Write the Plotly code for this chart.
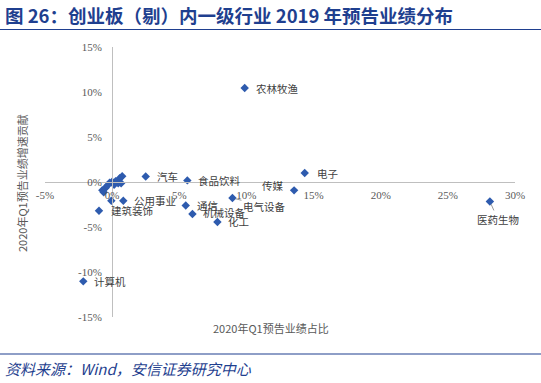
import plotly.graph_objects as go

# ---- data (percent) ----
industries = ["农林牧渔", "电子", "传媒", "医药生物", "计算机", "汽车", "食品饮料",
              "通信", "机械设备", "化工", "电气设备", "公用事业", "建筑装饰",
              "", "", "", "", "", "", "", "", "", "", "", "", ""]
share = [9.87, 14.34, 13.55, 28.13, -2.15, 2.50, 5.60,
         5.48, 5.98, 7.84, 8.96, 0.83, -0.98,
         -0.06, 0.75, 0.56, 0.26, 0.00, 0.15, 0.45, 0.67, -0.48, -0.73, -0.63, -0.19, -0.35]
contrib = [10.44, 1.00, -0.93, -2.16, -11.04, 0.62, 0.18,
           -2.60, -3.56, -4.44, -1.78, -2.08, -3.20,
           -2.08, 0.64, 0.42, 0.09, 0.03, -0.30, -0.13, -0.13, -0.63, -0.91, -1.13, -0.08, -0.40]
x_ticks = [-5, 0, 5, 10, 15, 20, 25, 30]
y_ticks = [-15, -10, -5, 0, 5, 10, 15]
x_title = "2020年Q1预告业绩占比"
y_title = "2020年Q1预告业绩增速贡献"
title = "图 26：创业板（剔）内一级行业 2019 年预告业绩分布"
source = "资料来源：Wind，安信证券研究中心"

# ---- label styling (pixel offsets) ----
label_style = {
    "农林牧渔": dict(xshift=9, yshift=0, xanchor="left"),
    "电子": dict(xshift=10, yshift=0, xanchor="left"),
    "传媒": dict(xshift=-8, yshift=5, xanchor="right"),
    "计算机": dict(xshift=9, yshift=0, xanchor="left"),
    "汽车": dict(xshift=9, yshift=0, xanchor="left"),
    "食品饮料": dict(xshift=9, yshift=0, xanchor="left"),
    "通信": dict(xshift=9, yshift=0, xanchor="left"),
    "机械设备": dict(xshift=9, yshift=2, xanchor="left"),
    "化工": dict(xshift=9, yshift=0, xanchor="left"),
    "公用事业": dict(xshift=9, yshift=0, xanchor="left"),
    "建筑装饰": dict(xshift=10, yshift=0, xanchor="left"),
}
arrow_style = {
    "医药生物": dict(ax=8, ay=18),
    "电气设备": dict(ax=32, ay=8),
}

W, H = 541, 383
ML, MR, MT, MB = 45, 26, 47, 66
PW, PH = W - ML - MR, H - MT - MB


def px_x(p):
    return (p - ML) / PW


def px_y(p):
    return (H - MB - p) / PH


navy = "#1F3F8F"
label_font = dict(family="Noto Sans CJK SC", size=10.5, color="#404040")
tick_font = dict(family="Liberation Serif", size=11, color="#595959")

fig = go.Figure()
fig.add_trace(go.Scatter(
    x=share, y=contrib, mode="markers",
    marker=dict(symbol="diamond", size=6.5, color="#2E5BAE"),
    hoverinfo="text", text=industries, showlegend=False,
))

annotations = []
for name, xv, yv in zip(industries, share, contrib):
    if not name:
        continue
    if name in label_style:
        s = label_style[name]
        annotations.append(dict(x=xv, y=yv, xref="x", yref="y", text=name,
                                showarrow=False, font=label_font,
                                xanchor=s["xanchor"], yanchor="middle",
                                xshift=s["xshift"], yshift=s["yshift"]))
    elif name in arrow_style:
        s = arrow_style[name]
        annotations.append(dict(x=xv, y=yv, xref="x", yref="y", text=name,
                                showarrow=True, arrowhead=0, arrowwidth=0.8,
                                arrowcolor="#808080", ax=s["ax"], ay=s["ay"],
                                standoff=3, font=label_font))

annotations += [
    dict(x=px_x(271), y=px_y(328), xref="paper", yref="paper", text=x_title,
         showarrow=False, font=dict(family="Noto Sans CJK SC", size=11, color="#595959"),
         xanchor="center", yanchor="middle"),
    dict(x=px_x(22), y=px_y(183), xref="paper", yref="paper", text=y_title,
         showarrow=False, textangle=-90,
         font=dict(family="Noto Sans CJK SC", size=11, color="#595959"),
         xanchor="center", yanchor="middle"),
    dict(x=px_x(3), y=px_y(368), xref="paper", yref="paper", text="<i>" + source + "</i>",
         showarrow=False, font=dict(family="Noto Sans CJK SC", size=15, color=navy),
         xanchor="left", yanchor="middle"),
    dict(x=px_x(3), y=px_y(15), xref="paper", yref="paper", text="<b>" + title + "</b>",
         showarrow=False, font=dict(family="Noto Sans CJK SC", size=18.5, color=navy),
         xanchor="left", yanchor="middle"),
]

shapes = [
    dict(type="line", xref="paper", yref="paper", x0=px_x(0), x1=px_x(541),
         y0=px_y(29.5), y1=px_y(29.5), line=dict(color=navy, width=1.2)),
    dict(type="line", xref="paper", yref="paper", x0=px_x(0), x1=px_x(541),
         y0=px_y(354), y1=px_y(354), line=dict(color=navy, width=1.2)),
]

fig.update_layout(
    width=W, height=H,
    margin=dict(l=ML, r=MR, t=MT, b=MB),
    paper_bgcolor="white", plot_bgcolor="white",
    annotations=annotations, shapes=shapes,
    xaxis=dict(range=[-5, 30], tickvals=x_ticks, ticktext=[f"{v}%" for v in x_ticks],
               anchor="free", position=0.5, showline=True, linecolor="#BFBFBF",
               linewidth=1, showgrid=False, zeroline=False, ticks="",
               tickfont=tick_font, ticklabelstandoff=3, automargin=False),
    yaxis=dict(range=[-15, 15], tickvals=y_ticks, ticktext=[f"{v}%" for v in y_ticks],
               anchor="free", position=5 / 35, showline=True, linecolor="#BFBFBF",
               linewidth=1, showgrid=False, zeroline=False, ticks="",
               tickfont=tick_font, ticklabelstandoff=8, automargin=False),
)

fig.write_html("out.html", config={"displayModeBar": False},
               post_script="document.body.style.margin='0';")
